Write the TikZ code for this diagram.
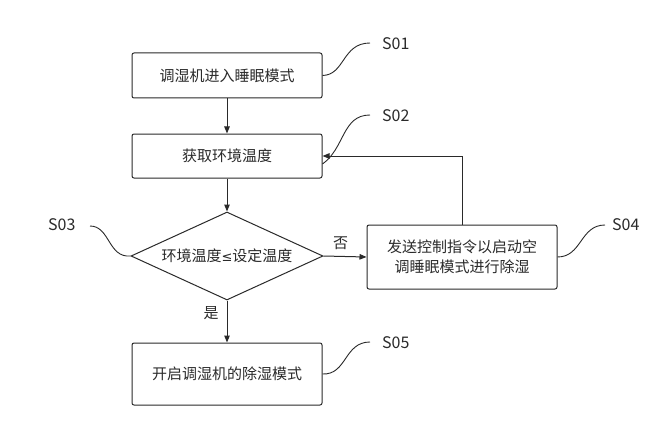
\documentclass[tikz,border=0pt]{standalone}
\usepackage{fontspec}
\setmainfont{Noto Sans CJK SC}
\newfontfamily\symfont{DejaVu Sans}
\usetikzlibrary{arrows.meta,shapes.geometric}
\definecolor{ink}{HTML}{2A2A2A}
\tikzset{
  box/.style={draw=ink, line width=1pt, rounded corners=2pt, minimum width=190pt, text=ink, font=\fontsize{15}{20}\selectfont, align=center, inner sep=0pt},
  dec/.style={draw=ink, line width=1pt, diamond, aspect=2.18, minimum width=192pt, minimum height=88pt, inner sep=0pt, text=ink, font=\fontsize{15}{18}\selectfont},
  arr/.style={draw=ink, line width=1pt, -{Triangle[length=7pt,width=5.5pt]}},
  lead/.style={draw=ink, line width=0.9pt},
  lab/.style={text=ink, font=\fontsize{16}{18}\selectfont, inner sep=0pt, anchor=west},
  yn/.style={text=ink, font=\fontsize{15}{18}\selectfont, inner sep=0pt}
}
\begin{document}
\begin{tikzpicture}[x=1pt,y=-1pt]
\useasboundingbox[fill=white] (0,0) rectangle (666,433);
\node[box, minimum height=45pt] (b1) at (227,75.5) {调湿机进入睡眠模式};
\node[box, minimum height=44pt] (b2) at (227,156) {获取环境温度};
\node[dec] (d3) at (227,256) {环境温度{\symfont\fontsize{13}{18}\selectfont ≤}设定温度};
\node[box, minimum width=190pt, minimum height=64pt] (b4) at (462,257) {发送控制指令以启动空\\调睡眠模式进行除湿};
\node[box, minimum height=62pt] (b5) at (227,374) {开启调湿机的除湿模式};
\draw[arr] (b1) -- (b2);
\draw[arr] (b2) -- (d3);
\draw[arr] (d3.east) -- node[yn, above=6pt, pos=0.4] (no) {否} (b4.west);
\draw[arr] (d3.south) -- node[yn, left=8pt, pos=0.3] (yes) {是} (b5.north);
\coordinate (c4) at (b4.north);
\draw[arr] (c4) |- (b2.east);
% leader curves
\node[lab] (s1) at (382,44) {S01};
\node[lab] (s2) at (382,116) {S02};
\node[lab] (s3) at (48,225) {S03};
\node[lab] (s4) at (612,225) {S04};
\node[lab] (s5) at (382,343) {S05};
\coordinate (e1) at (370,43);
\coordinate (e2) at (370,115);
\coordinate (e3) at (90,226);
\coordinate (e4) at (605,225);
\coordinate (e5) at (370,342);
\draw[lead] (b1.east) .. controls (345,75) and (342,43) .. (e1);
\draw[lead] ([yshift=-8pt]b2.east) .. controls (345,148) and (342,115) .. (e2);
\draw[lead] (d3.west) .. controls (108,258) and (110,226) .. (e3);
\draw[lead] (b4.east) .. controls (582,257) and (580,225) .. (e4);
\draw[lead] (b5.east) .. controls (347,375) and (344,342) .. (e5);
\end{tikzpicture}
\end{document}
